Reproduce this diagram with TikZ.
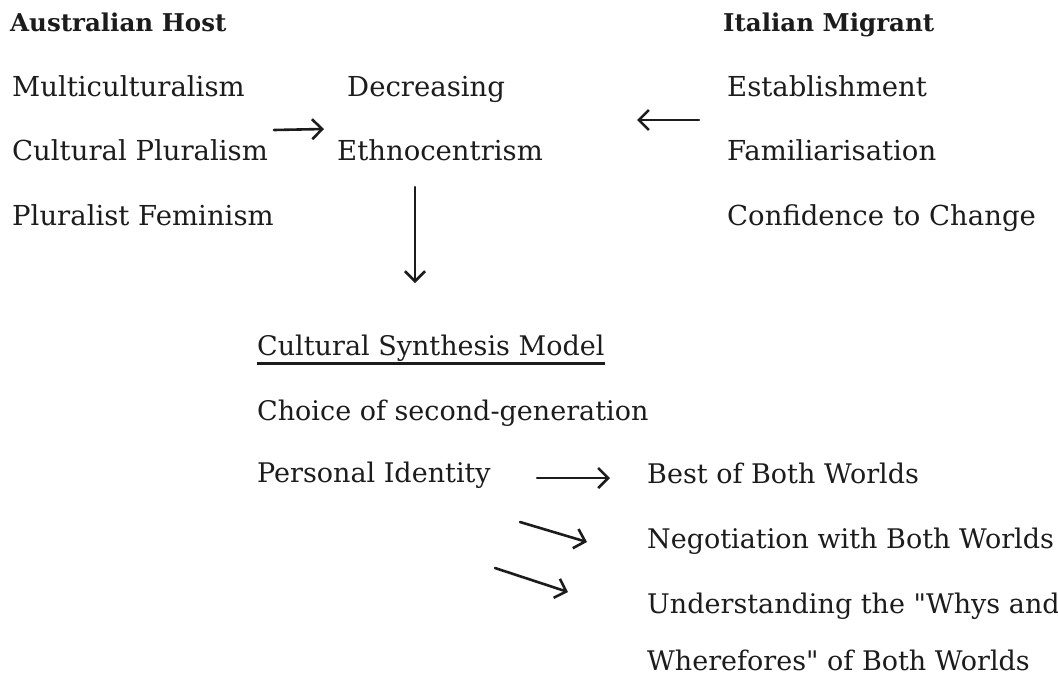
\documentclass[tikz,border=0pt]{standalone}
\usepackage{fontspec}
\setmainfont{DejaVu Serif}
\usetikzlibrary{arrows.meta}
\definecolor{ink}{HTML}{1C1C1C}
\tikzset{
  txt/.style={anchor=base west, inner sep=0pt, text=ink, font=\fontsize{27.5}{32}\selectfont},
  low/.style={txt, font=\fontsize{27}{32}\selectfont},
  head/.style={txt, font=\fontsize{24.5}{30}\selectfont\bfseries},
  arr/.style={draw=ink, line width=2.6pt, line cap=round, -{Straight Barb[length=10pt,width=20pt,line width=2.6pt]}},
  thinarr/.style={arr, line width=2.1pt},
}
\begin{document}
\begin{tikzpicture}[x=1pt,y=-1pt]
\useasboundingbox (0,0) rectangle (1058,678);
% headers
\node[head] (ah) at (10,31) {Australian Host};
\node[head] (im) at (723,31) {Italian Migrant};
% left column
\node[txt] (mc) at (12,96) {Multiculturalism};
\node[txt] (cp) at (12,160) {Cultural Pluralism};
\node[txt] (pf) at (12,225) {Pluralist Feminism};
% middle
\node[txt] (dec) at (347,96) {Decreasing};
\node[txt] (eth) at (337,160) {Ethnocentrism};
% right column
\node[txt] (est) at (727,96) {Establishment};
\node[txt] (fam) at (727,160) {Familiarisation};
\node[txt] (con) at (727,225) {Confidence to Change};
% lower block
\node[low] (csm) at (257,355) {Cultural Synthesis Model};
\draw[draw=ink, line width=2.8pt] (csm.south west) ++(0,2) coordinate (ul1) -- (ul1 -| csm.south east);
\node[low] (cho) at (257,420) {Choice of second-generation};
\node[low] (pid) at (257,482) {Personal Identity};
\node[low] (best) at (647,483) {Best of Both Worlds};
\node[low] (neg) at (647,548) {Negotiation with Both Worlds};
\node[low] (und) at (647,613) {Understanding the \textquotedbl Whys and};
\node[low] (whe) at (647,670) {Wherefores\textquotedbl{} of Both Worlds};
% connector end points
\coordinate (a1s) at (274,130);
\coordinate (a1e) at (324,129);
\coordinate (a2s) at (699,120);
\coordinate (a2e) at (637,120);
\coordinate (a3s) at (415,187);
\coordinate (a3e) at (415,283);
\coordinate (a4s) at (537,478);
\coordinate (a4e) at (610,478);
\coordinate (a5s) at (520,522);
\coordinate (a5e) at (587,542);
\coordinate (a6s) at (495,568);
\coordinate (a6e) at (568,592);
\draw[arr] (a1s) -- (a1e);
\draw[thinarr] (a2s) -- (a2e);
\draw[thinarr] (a3s) -- (a3e);
\draw[thinarr] (a4s) -- (a4e);
\draw[arr] (a5s) -- (a5e);
\draw[arr] (a6s) -- (a6e);
\end{tikzpicture}
\end{document}
